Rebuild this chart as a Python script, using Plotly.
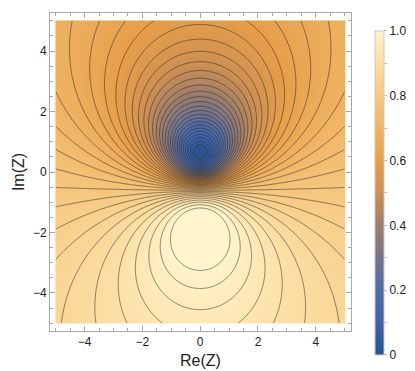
import numpy as np
import plotly.graph_objects as go

# field is set by a zero (blue spot) and a pole (yellow plateau) on the Im axis
zero_im = 0.63
pole_im = -1.85
# contour-line field
line_amp = 1.05
line_spread = 2.62
n_levels = 41
# colour field (same level sets, slightly flatter)
col_spread = 3.1

# axis ticks
major_ticks = [-4, -2, 0, 2, 4]
cbar_vals = [0, 0.1, 0.2, 0.3, 0.4, 0.5, 0.6, 0.7, 0.8, 0.9, 1.0]
cbar_text = ["0", "", "0.2", "", "0.4", "", "0.6", "", "0.8", "", "1.0"]

# colour map
cmap = [
    [0.0, "rgb(42,82,142)"],
    [0.1, "rgb(62,100,168)"],
    [0.2, "rgb(80,108,165)"],
    [0.3, "rgb(117,116,140)"],
    [0.4, "rgb(157,126,110)"],
    [0.5, "rgb(205,143,84)"],
    [0.6, "rgb(230,158,74)"],
    [0.7, "rgb(240,180,100)"],
    [0.8, "rgb(246,201,129)"],
    [0.9, "rgb(251,221,162)"],
    [1.0, "rgb(255,244,204)"],
]

re = np.linspace(-5, 5, 401)
im = np.linspace(-5, 5, 401)
X, Y = np.meshgrid(re, im)
Z = X + 1j * Y
u = np.abs(Z - 1j * pole_im) / np.maximum(np.abs(Z - 1j * zero_im), 1e-9)

line_val = line_amp * line_spread / (line_spread + u ** 2)
# plateau edge (line_val == 1) must also be where colour hits 1
u_edge2 = line_spread * line_amp - line_spread
col_amp = 1 + u_edge2 / col_spread
col_val = col_amp * col_spread / (col_spread + u ** 2)

step = 1.0 / n_levels

fig = go.Figure()
fig.add_trace(go.Heatmap(
    x=re, y=im, z=np.clip(col_val, 0, 1), zmin=0, zmax=1, zsmooth="best",
    colorscale=cmap,
    colorbar=dict(
        thickness=9, lenmode="pixels", len=344, x=1.047, xanchor="left",
        y=0.434, yanchor="middle", outlinecolor="#c8c8c8", outlinewidth=1,
        tickvals=cbar_vals, ticktext=cbar_text, ticks="outside", ticklen=3,
        tickcolor="#bbbbbb", tickfont=dict(size=12, color="#222"),
    ),
))
fig.add_trace(go.Contour(
    x=re, y=im, z=line_val, showscale=False, hoverinfo="skip",
    contours=dict(coloring="none", start=step, end=1.0 + 1e-6, size=step),
    line=dict(color="rgba(45,40,35,0.6)", width=0.9),
))

axis_style = dict(
    showline=True, mirror="ticks", linecolor="#a8a8a8", linewidth=1,
    ticks="inside", ticklen=5, tickcolor="#a8a8a8", tickvals=major_ticks,
    minor=dict(ticks="inside", ticklen=3, dtick=0.5, tickcolor="#a8a8a8"),
    showgrid=False, zeroline=False, tickfont=dict(size=12, color="#222"),
)
fig.update_xaxes(range=[-5.2, 5.22], title=dict(text="Re(Z)", standoff=6), **axis_style)
fig.update_yaxes(range=[-5.26, 5.26], title=dict(text="Im(Z)", standoff=4), **axis_style)

fig.update_layout(
    width=415, height=371,
    margin=dict(l=42, r=54, t=5, b=48),
    plot_bgcolor="white", paper_bgcolor="white",
    font=dict(family="Liberation Sans, Arial, sans-serif", size=13, color="#222"),
)

fig.write_html("out.html")
